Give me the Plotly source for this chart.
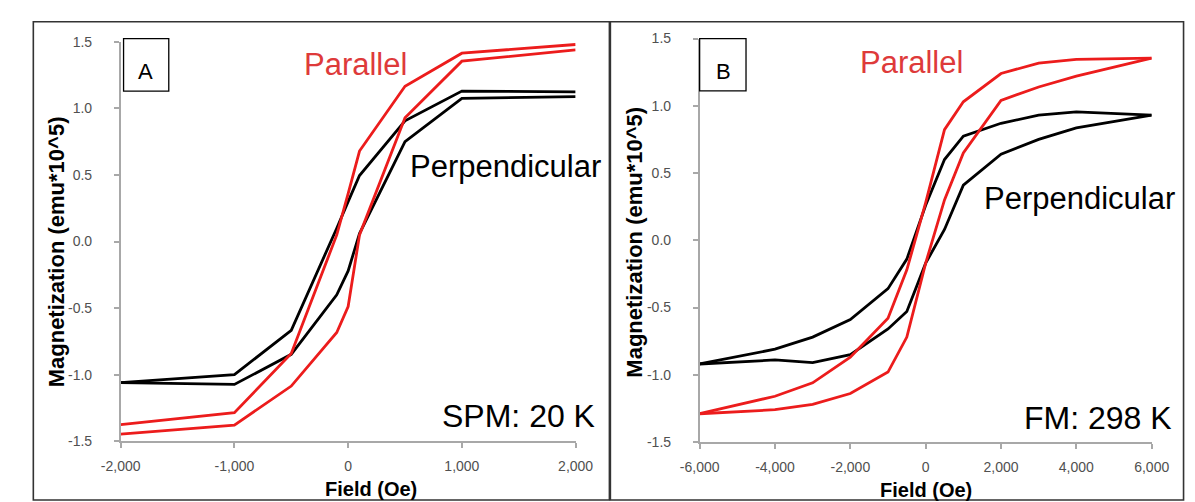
import plotly.graph_objects as go

# ---------------- data ----------------
# Panel A (SPM: 20 K), field in Oe, magnetization in emu*10^5
A_field_desc = [2000, 1000, 500, 100, 0, -100, -500, -1000, -2000]
A_field_asc = [-2000, -1000, -500, -100, 0, 100, 500, 1000, 2000]
A_par_desc = [1.48, 1.415, 1.166, 0.68, 0.36, 0.05, -0.84, -1.285, -1.375]
A_par_asc = [-1.446, -1.378, -1.085, -0.683, -0.488, 0.05, 0.93, 1.355, 1.44]
A_perp_desc = [1.125, 1.13, 0.907, 0.496, 0.30, 0.10, -0.666, -1.0, -1.06]
A_perp_asc = [-1.06, -1.073, -0.847, -0.40, -0.22, 0.06, 0.75, 1.076, 1.089]

# Panel B (FM: 298 K)
B_field_desc = [6000, 4000, 3000, 2000, 1000, 500, 0, -500, -1000, -2000, -3000, -4000, -6000]
B_field_asc = [-6000, -4000, -3000, -2000, -1000, -500, 0, 500, 1000, 2000, 3000, 4000, 6000]
B_par_desc = [1.355, 1.345, 1.318, 1.24, 1.03, 0.823, 0.28, -0.22, -0.58, -0.87, -1.06, -1.16, -1.29]
B_par_asc = [-1.29, -1.26, -1.22, -1.14, -0.98, -0.72, -0.17, 0.30, 0.65, 1.04, 1.14, 1.22, 1.355]
B_perp_desc = [0.93, 0.955, 0.93, 0.87, 0.774, 0.60, 0.26, -0.14, -0.36, -0.59, -0.72, -0.81, -0.92]
B_perp_asc = [-0.92, -0.89, -0.91, -0.85, -0.66, -0.53, -0.17, 0.08, 0.41, 0.64, 0.75, 0.835, 0.93]

# tick labels
A_xticks = [-2000, -1000, 0, 1000, 2000]
A_xticktext = ["-2,000", "-1,000", "0", "1,000", "2,000"]
B_xticks = [-6000, -4000, -2000, 0, 2000, 4000, 6000]
B_xticktext = ["-6,000", "-4,000", "-2,000", "0", "2,000", "4,000", "6,000"]
yticks = [-1.5, -1.0, -0.5, 0.0, 0.5, 1.0, 1.5]
yticktext = ["-1.5", "-1.0", "-0.5", "0.0", "0.5", "1.0", "1.5"]

# ---------------- layout helpers ----------------
W, H = 1195, 502
def px(x):
    return x / W
def py(y):
    return 1 - y / H

RED = "#ec1c1c"
BLACK = "#000000"
FONT = "Liberation Sans, Arial, sans-serif"

fig = go.Figure()

def add_pair(fx_d, my_d, fx_a, my_a, color, xa, ya):
    fig.add_trace(go.Scatter(x=fx_d, y=my_d, mode="lines", line=dict(color=color, width=2.8),
                             xaxis=xa, yaxis=ya, showlegend=False, hoverinfo="skip"))
    fig.add_trace(go.Scatter(x=fx_a, y=my_a, mode="lines", line=dict(color=color, width=2.8),
                             xaxis=xa, yaxis=ya, showlegend=False, hoverinfo="skip"))

add_pair(A_field_desc, A_perp_desc, A_field_asc, A_perp_asc, BLACK, "x", "y")
add_pair(A_field_desc, A_par_desc, A_field_asc, A_par_asc, RED, "x", "y")
add_pair(B_field_desc, B_perp_desc, B_field_asc, B_perp_asc, BLACK, "x2", "y2")
add_pair(B_field_desc, B_par_desc, B_field_asc, B_par_asc, RED, "x2", "y2")

axcommon = dict(showgrid=False, zeroline=False, showline=True, linecolor="#a8a8a8", linewidth=1.5,
                ticks="outside", tickcolor="#a8a8a8", ticklen=5, tickwidth=1.5,
                tickfont=dict(family=FONT, size=14, color="#505050"))

fig.update_layout(
    width=W, height=H, margin=dict(l=0, r=0, t=0, b=0),
    paper_bgcolor="white", plot_bgcolor="white",
    xaxis=dict(domain=[px(95.7), px(565.6)], range=[-2000, 2000], anchor="y",
               tickvals=A_xticks, ticktext=A_xticktext, ticklabelstandoff=6, **axcommon),
    yaxis=dict(domain=[py(439.3), py(26.7)], range=[-1.5, 1.5], anchor="x",
               tickvals=yticks, ticktext=yticktext, ticklabelstandoff=19, **axcommon),
    xaxis2=dict(domain=[px(693.7), px(1160.6)], range=[-6000, 6000], anchor="y2",
                tickvals=B_xticks, ticktext=B_xticktext, ticklabelstandoff=6, **axcommon),
    yaxis2=dict(domain=[py(440), py(23.3)], range=[-1.5, 1.5], anchor="x2",
                tickvals=yticks, ticktext=yticktext, ticklabelstandoff=19, **axcommon),
)

shapes = [
    dict(type="rect", xref="paper", yref="paper", x0=px(5.5), x1=px(600.5), y0=py(500), y1=py(6),
         line=dict(color="#333333", width=1.6)),
    dict(type="rect", xref="paper", yref="paper", x0=px(601.5), x1=px(1193.5), y0=py(500), y1=py(6),
         line=dict(color="#333333", width=1.6)),
    dict(type="rect", xref="paper", yref="paper", x0=px(98.7), x1=px(145.4), y0=py(77.7), y1=py(23.3),
         line=dict(color="#000000", width=1.3)),
    dict(type="rect", xref="paper", yref="paper", x0=px(693.7), x1=px(741.6), y0=py(77.3), y1=py(23.3),
         line=dict(color="#000000", width=1.3)),
]
fig.update_layout(shapes=shapes)

def ann(text, x, y, size, color="#000000", angle=0, xanchor="center"):
    return dict(text=text, x=px(x), y=py(y), xref="paper", yref="paper", showarrow=False,
                xanchor=xanchor, yanchor="middle", textangle=angle,
                font=dict(family=FONT, size=size, color=color))

annotations = [
    ann("A", 121, 57, 22),
    ann("B", 718, 57, 22),
    ann("Parallel", 338.5, 50, 31, "#de3a3a"),
    ann("Parallel", 912.5, 48.5, 31, "#de3a3a"),
    ann("Perpendicular", 493, 155, 31),
    ann("Perpendicular", 1086.5, 189, 31),
    ann("SPM: 20 K", 507, 413, 32),
    ann("FM: 298 K", 1105, 415, 32),
    ann("<b>Field (Oe)</b>", 354, 489, 20),
    ann("<b>Field (Oe)</b>", 928, 490, 20),
    ann("<b>Magnetization (emu*10^5)</b>", 29, 244, 22, angle=-90),
    ann("<b>Magnetization (emu*10^5)</b>", 626, 234, 22, angle=-90),
]
fig.update_layout(annotations=annotations)

fig.write_html("out.html")
